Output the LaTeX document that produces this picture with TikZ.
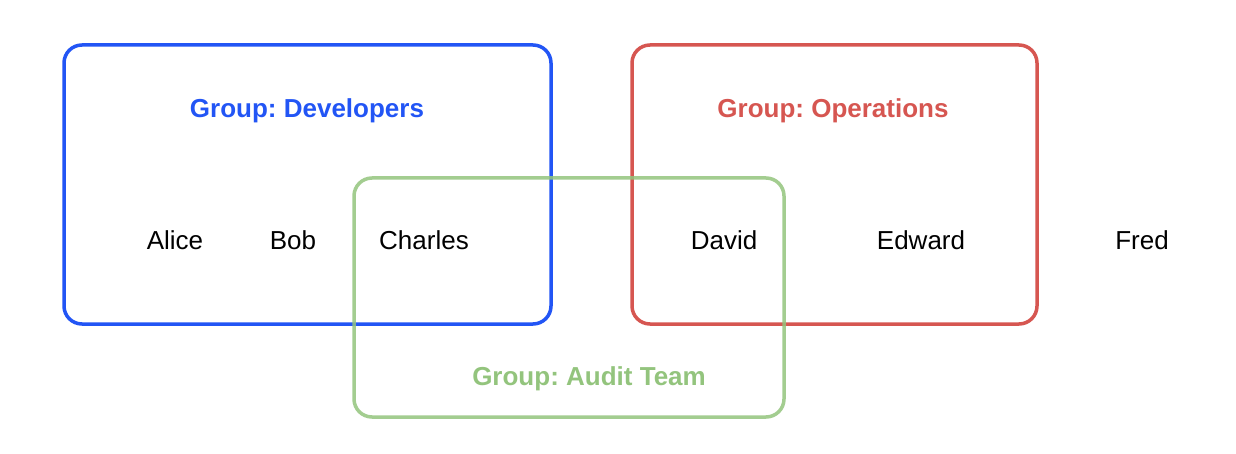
\documentclass[tikz,border=0pt]{standalone}
\usepackage{fontspec}
\setmainfont{Liberation Sans}
\frenchspacing
\definecolor{devblue}{RGB}{34,85,245}
\definecolor{opsred}{RGB}{214,86,81}
\definecolor{audgreen}{RGB}{147,196,125}
\begin{document}
\begin{tikzpicture}[x=1pt,y=-1pt,
  groupbox/.style={line width=3.5pt, rounded corners=18pt},
  grouplabel/.style={font=\fontsize{26}{30}\selectfont\bfseries, anchor=center},
  person/.style={font=\fontsize{26}{30}\selectfont, anchor=center, text=black}]
\useasboundingbox (0,0) rectangle (1236,454);
\draw[groupbox, devblue] (64,45) rectangle (551,324);
\draw[groupbox, opsred] (632,45) rectangle (1037,324);
\draw[groupbox, audgreen, draw opacity=0.85] (354,178) rectangle (784,417);
\node[grouplabel, text=devblue] (gdev) at (307,111) {Group: Developers};
\node[grouplabel, text=opsred] (gops) at (833,111) {Group: Operations};
\node[grouplabel, text=audgreen] (gaud) at (589,378.5) {Group: Audit Team};
\node[person] (alice) at (175,240) {Alice};
\node[person] (bob) at (293,240) {Bob};
\node[person] (charles) at (424,240) {Charles};
\node[person] (david) at (724,240) {David};
\node[person] (edward) at (921,240) {Edward};
\node[person] (fred) at (1142,240) {Fred};
\end{tikzpicture}
\end{document}
